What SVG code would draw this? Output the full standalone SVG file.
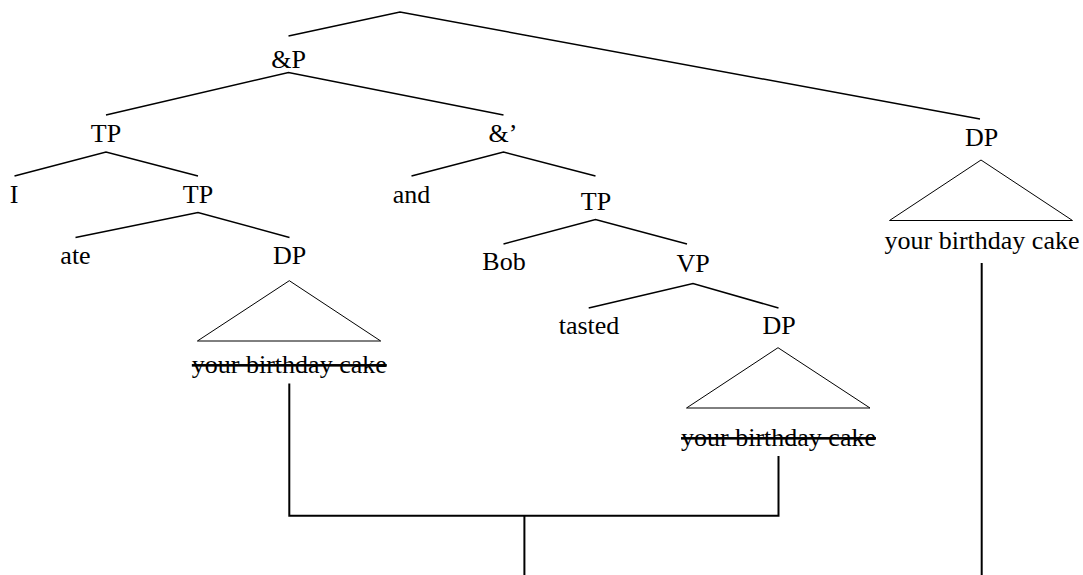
<svg xmlns="http://www.w3.org/2000/svg" width="1083" height="575" viewBox="0 0 1083 575">
  <style>
    .lbl { font-family: "Liberation Serif", "Times New Roman", serif; font-size: 26px; fill: #000; text-anchor: middle; }
    .del { text-decoration: line-through; }
    .br { fill: none; stroke: #000; stroke-width: 1.5; }
    .tri { fill: none; stroke: #000; stroke-width: 1; }
    .mv { fill: none; stroke: #000; stroke-width: 2; }
  </style>

  <!-- tree branches -->
  <g id="branches">
    <polyline class="br" points="288.5,36 400,12 980,119"/>
    <polyline class="br" points="106,115 288.5,72.5 503.5,115"/>
    <polyline class="br" points="14.5,176 106,152 198,176"/>
    <polyline class="br" points="75.5,237.5 198,212.5 289.5,237.5"/>
    <polyline class="br" points="411.5,176 503.5,152 595.5,176"/>
    <polyline class="br" points="503.5,244 595.5,219.5 687,244"/>
    <polyline class="br" points="588.7,308 693,283.5 778.5,308"/>
  </g>

  <!-- movement connectors -->
  <g id="connectors">
    <path class="mv" d="M289.3,383.5 V515.7 H778.5 V456"/>
    <path class="mv" d="M524.4,515.7 V575"/>
    <path class="mv" d="M981.7,263 V575"/>
  </g>

  <g id="andP"><text class="lbl" x="288.5" y="68">&amp;P</text></g>
  <g id="TP1"><text class="lbl" x="106" y="142">TP</text></g>
  <g id="I"><text class="lbl" x="14" y="203">I</text></g>
  <g id="TP2"><text class="lbl" x="198" y="203">TP</text></g>
  <g id="ate"><text class="lbl" x="75.5" y="264">ate</text></g>
  <g id="DP1">
    <text class="lbl" x="289.5" y="264">DP</text>
    <polygon class="tri" points="289.3,280.7 197.4,341 380.7,341"/>
    <text class="lbl del" x="289.3" y="373">your birthday cake</text>
  </g>
  <g id="andBar"><text class="lbl" x="503" y="142">&amp;’</text></g>
  <g id="and"><text class="lbl" x="411.5" y="203">and</text></g>
  <g id="TP3"><text class="lbl" x="596" y="210">TP</text></g>
  <g id="Bob"><text class="lbl" x="504" y="270">Bob</text></g>
  <g id="VP"><text class="lbl" x="693" y="272">VP</text></g>
  <g id="tasted"><text class="lbl" x="589" y="334">tasted</text></g>
  <g id="DP2">
    <text class="lbl" x="779" y="334">DP</text>
    <polygon class="tri" points="778,347.7 686.5,408 870,408"/>
    <text class="lbl del" x="778.5" y="446">your birthday cake</text>
  </g>
  <g id="DP3">
    <text class="lbl" x="981.5" y="146">DP</text>
    <polygon class="tri" points="981,160 889.5,220.5 1072.5,220.5"/>
    <text class="lbl" x="982" y="249.3">your birthday cake</text>
  </g>
</svg>
